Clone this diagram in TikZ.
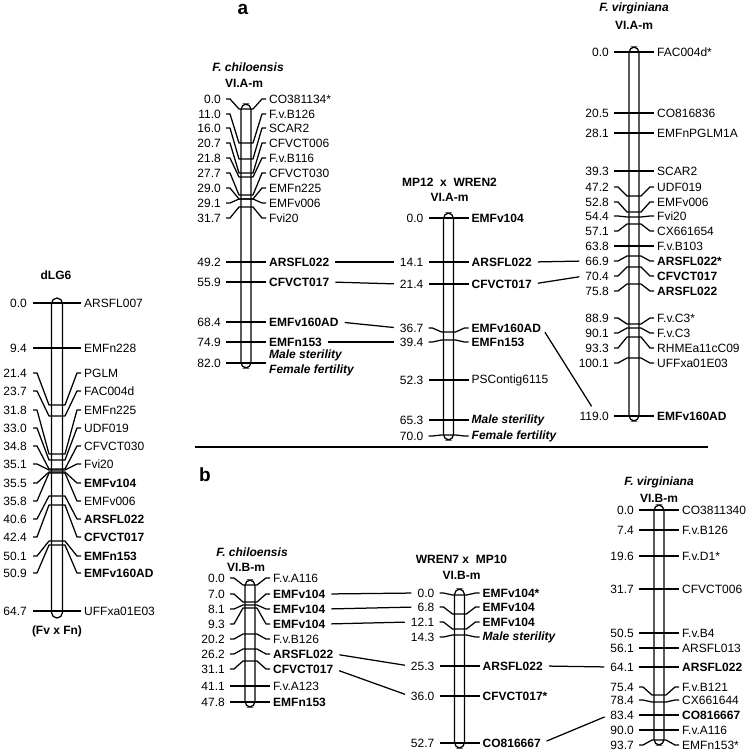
\documentclass[tikz,border=0pt]{standalone}
\usepackage{fontspec}
\setmainfont{Liberation Sans}
\usepackage{tikz}
\usetikzlibrary{positioning}
\newcommand{\lblfont}{\fontsize{12}{14.5}\selectfont}

\tikzset{
  chr/.style={line width=1.25pt, rounded corners=5.5pt},
  tick/.style={line width=1.25pt, line join=round},
  lft/.style={anchor=east, inner sep=1pt, font=\lblfont},
  rgt/.style={anchor=west, inner sep=1pt, align=left},
  nrm/.style={font=\lblfont},
  bld/.style={font=\lblfont\bfseries},
  ital/.style={font=\lblfont\bfseries\itshape},
  ttl/.style={font=\lblfont\bfseries},
  ttli/.style={font=\lblfont\bfseries\itshape},
  link/.style={line width=1.25pt, shorten <=5pt, shorten >=5pt},
  panel/.style={font=\fontsize{19}{19}\selectfont\bfseries},
}

\begin{document}
\begin{tikzpicture}[x=1pt, y=-1pt]
\useasboundingbox (0,0) rectangle (750,755);

% dLG6
\def\cx{57}\def\w{24}
\node[ttl] (tD) at (\cx-1,275) {dLG6};
\node[ttl] (bD) at (\cx,631) {(Fv x Fn)};
\draw[chr] (\cx-5.5,298) rectangle (\cx+5.5,618);
\foreach \cm/\yl/\yp/\lab/\fs [count=\i] in {
  0.0/303/303/ARSFL007/nrm, 9.4/348/348/EMFn228/nrm, 21.4/373/405/PGLM/nrm,
  23.7/391/416/FAC004d/nrm, 31.8/410/454/EMFn225/nrm, 33.0/428/460/UDF019/nrm,
  34.8/446/469/CFVCT030/nrm, 35.1/464/470/Fvi20/nrm, 35.5/483/472/EMFv104/bld,
  35.8/501/473/EMFv006/nrm, 40.6/519/496/ARSFL022/bld, 42.4/537/505/CFVCT017/bld,
  50.1/556/541/EMFn153/bld, 50.9/573/545/EMFv160AD/bld, 64.7/611/611/UFFxa01E03/nrm}{
  \draw[tick] (\cx-\w,\yl) -- (\cx-\w+4,\yl) -- (\cx-8,\yp) -- (\cx+8,\yp) -- (\cx+\w-4,\yl) -- (\cx+\w,\yl);
  \node[lft] (d-l\i) at (\cx-\w-5,\yl) {\cm};
  \node[rgt,\fs] (d-r\i) at (\cx+\w+2,\yl) {\lab};
}

% panel a
\node[panel] (pa) at (243,9) {a};

\def\cx{246}\def\w{20}
\node[ttli] (tCa) at (\cx+2,67) {F. chiloensis};
\node[ttl] (sCa) at (\cx-2,83) {VI.A-m};
\draw[chr] (\cx-5,104) rectangle (\cx+5,368);
\foreach \cm/\yl/\yp/\lab/\fs [count=\i] in {
  0.0/99/109/CO381134*/nrm, 11.0/114/143/F.v.B126/nrm, 16.0/128/159/SCAR2/nrm,
  20.7/143/173/CFVCT006/nrm, 21.8/158/177/F.v.B116/nrm, 27.7/173/195/CFVCT030/nrm,
  29.0/188/199/EMFn225/nrm, 29.1/203/199/EMFv006/nrm, 31.7/218/207/Fvi20/nrm,
  49.2/262/262/ARSFL022/bld, 55.9/282/282/CFVCT017/bld, 68.4/322/322/EMFv160AD/bld,
  74.9/342/342/EMFn153/bld, 82.0/363/363/{Male sterility\\Female fertility}/ital}{
  \draw[tick] (\cx-\w,\yl) -- (\cx-\w+4,\yl) -- (\cx-7,\yp) -- (\cx+7,\yp) -- (\cx+\w-4,\yl) -- (\cx+\w,\yl);
  \node[lft] (ca-l\i) at (\cx-\w-4,\yl) {\cm};
  \node[rgt,\fs] (ca-r\i) at (\cx+\w+2,\yl) {\lab};
}

\def\cx{448.5}
\node[ttl] (tMa) at (\cx+1,182) {MP12\ \ x\ \ WREN2};
\node[ttl] (sMa) at (\cx+1,197) {VI.A-m};
\draw[chr] (\cx-5,213) rectangle (\cx+5,440);
\foreach \cm/\yl/\yp/\lab/\fs [count=\i] in {
  0.0/218/218/EMFv104/bld, 14.1/262/262/ARSFL022/bld, 21.4/284/284/CFVCT017/bld,
  36.7/328/332/EMFv160AD/bld, 39.4/342/340/EMFn153/bld, 52.3/380/380/PSContig6115/nrm,
  65.3/420/420/Male sterility/ital, 70.0/436/435/Female fertility/ital}{
  \draw[tick] (\cx-\w,\yl) -- (\cx-\w+4,\yl) -- (\cx-7,\yp) -- (\cx+7,\yp) -- (\cx+\w-4,\yl) -- (\cx+\w,\yl);
  \node[lft] (ma-l\i) at (\cx-\w-4,\yl) {\cm};
  \node[rgt,\fs] (ma-r\i) at (\cx+\w+2,\yl) {\lab};
}

\def\cx{634}
\node[ttli] (tVa) at (\cx,8) {F. virginiana};
\node[ttl] (sVa) at (\cx,25) {VI.A-m};
\draw[chr] (\cx-5,47) rectangle (\cx+5,421);
\foreach \cm/\yl/\yp/\lab/\fs [count=\i] in {
  0.0/52/52/FAC004d*/nrm, 20.5/113/113/CO816836/nrm, 28.1/133/133/EMFnPGLM1A/nrm,
  39.3/171/171/SCAR2/nrm, 47.2/187/196/UDF019/nrm, 52.8/202/212/EMFv006/nrm,
  54.4/216/217/Fvi20/nrm, 57.1/231/224/CX661654/nrm, 63.8/246/246/F.v.B103/nrm,
  66.9/261/256/ARSFL022*/bld, 70.4/276/267/CFVCT017/bld, 75.8/291/284/ARSFL022/bld,
  88.9/318/324/F.v.C3*/nrm, 90.1/333/328/F.v.C3/nrm, 93.3/348/337/RHMEa11cC09/nrm,
  100.1/363/358/UFFxa01E03/nrm, 119.0/416/416/EMFv160AD/bld}{
  \draw[tick] (\cx-\w,\yl) -- (\cx-\w+4,\yl) -- (\cx-7,\yp) -- (\cx+7,\yp) -- (\cx+\w-4,\yl) -- (\cx+\w,\yl);
  \node[lft] (va-l\i) at (\cx-\w-4,\yl) {\cm};
  \node[rgt,\fs] (va-r\i) at (\cx+\w+2,\yl) {\lab};
}

\draw[link] (ca-r10.east) -- (ma-l2.west);
\draw[link] (ca-r11.east) -- (ma-l3.west);
\draw[link] (ca-r12.east) -- (ma-l4.west);
\draw[link] (ca-r13.east) -- (ma-l5.west);
\draw[link] (ma-r2.east) -- (va-l10.west);
\draw[link] (ma-r3.east) -- (va-l11.west);
\draw[link] (ma-r4.east) -- (va-l17.north);

\draw[line width=1.4pt] (195,447) -- (708,447);

% panel b
\node[panel] (pb) at (205,475) {b};

\def\cx{250}
\node[ttli] (tCb) at (\cx+2,552) {F. chiloensis};
\node[ttl] (sCb) at (\cx-4,567) {VI.B-m};
\draw[chr] (\cx-5,580) rectangle (\cx+5,707);
\foreach \cm/\yl/\yp/\lab/\fs [count=\i] in {
  0.0/578/585/F.v.A116/nrm, 7.0/594/602/EMFv104/bld, 8.1/609/605/EMFv104/bld,
  9.3/624/608/EMFv104/bld, 20.2/639/634/F.v.B126/nrm, 26.2/654/649/ARSFL022/bld,
  31.1/669/661/CFVCT017/bld, 41.1/686/686/F.v.A123/nrm, 47.8/702/702/EMFn153/bld}{
  \draw[tick] (\cx-\w,\yl) -- (\cx-\w+4,\yl) -- (\cx-7,\yp) -- (\cx+7,\yp) -- (\cx+\w-4,\yl) -- (\cx+\w,\yl);
  \node[lft] (cb-l\i) at (\cx-\w-4,\yl) {\cm};
  \node[rgt,\fs] (cb-r\i) at (\cx+\w+2,\yl) {\lab};
}

\def\cx{459.5}
\node[ttl] (tWb) at (\cx+2,559) {WREN7 x\ \ MP10};
\node[ttl] (sWb) at (\cx+2,575) {VI.B-m};
\draw[chr] (\cx-5,589) rectangle (\cx+5,748);
\foreach \cm/\yl/\yp/\lab/\fs [count=\i] in {
  0.0/593/595/EMFv104*/bld, 6.8/607/614/EMFv104/bld, 12.1/622/629/EMFv104/bld,
  14.3/637/635/Male sterility/ital, 25.3/666/666/ARSFL022/bld, 36.0/696/696/CFVCT017*/bld,
  52.7/743/743/CO816667/bld}{
  \draw[tick] (\cx-\w,\yl) -- (\cx-\w+4,\yl) -- (\cx-7,\yp) -- (\cx+7,\yp) -- (\cx+\w-4,\yl) -- (\cx+\w,\yl);
  \node[lft] (wb-l\i) at (\cx-\w-4,\yl) {\cm};
  \node[rgt,\fs] (wb-r\i) at (\cx+\w+2,\yl) {\lab};
}

\def\cx{659}
\node[ttli] (tVb) at (\cx,482) {F. virginiana};
\node[ttl] (sVb) at (\cx,498) {VI.B-m};
\draw[chr] (\cx-5,505) rectangle (\cx+5,745);
\foreach \cm/\yl/\yp/\lab/\fs [count=\i] in {
  0.0/510/510/CO3811340/nrm, 7.4/530/530/F.v.B126/nrm, 19.6/556/556/F.v.D1*/nrm,
  31.7/589/589/CFVCT006/nrm, 50.5/633/633/F.v.B4/nrm, 56.1/648/648/ARSFL013/nrm,
  64.1/667/667/ARSFL022/bld, 75.4/687/695/F.v.B121/nrm, 78.4/700/702/CX661644/nrm,
  83.4/715/715/CO816667/bld, 90.0/730/730/F.v.A116/nrm, 93.7/745/740/EMFn153*/nrm}{
  \draw[tick] (\cx-\w,\yl) -- (\cx-\w+4,\yl) -- (\cx-7,\yp) -- (\cx+7,\yp) -- (\cx+\w-4,\yl) -- (\cx+\w,\yl);
  \node[lft] (vb-l\i) at (\cx-\w-4,\yl) {\cm};
  \node[rgt,\fs] (vb-r\i) at (\cx+\w+2,\yl) {\lab};
}

\draw[link] (cb-r2.east) -- (wb-l1.west);
\draw[link] (cb-r3.east) -- (wb-l2.west);
\draw[link] (cb-r4.east) -- (wb-l3.west);
\draw[link] (cb-r6.east) -- (wb-l5.west);
\draw[link] (cb-r7.east) -- (wb-l6.west);
\draw[link] (wb-r5.east) -- (vb-l7.west);
\draw[link] (wb-r7.east) -- (vb-l10.west);
\end{tikzpicture}
\end{document}
